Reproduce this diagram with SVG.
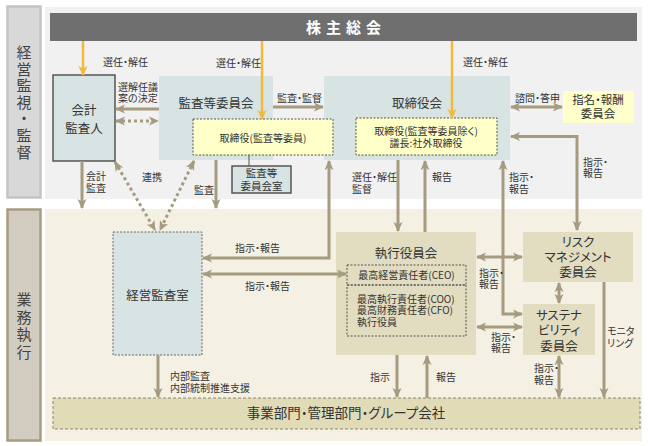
<svg xmlns="http://www.w3.org/2000/svg" width="648" height="446" viewBox="0 0 648 446">
<style>
text{font-family:"Noto Sans CJK JP","Noto Sans",sans-serif;fill:#333;font-feature-settings:"palt"}
.s{font-size:10px}
.t{font-size:12.5px;text-anchor:middle}
.m{font-size:10px;text-anchor:middle}
.side{font-size:15px;text-anchor:middle;fill:#444}
.teal{fill:#d7e4e3}
.tealb{fill:#d7e4e3;stroke:#555;stroke-width:1.5}
.yel{fill:#ffffc8;stroke:#555;stroke-width:1;stroke-dasharray:2,1.5}
.kh{fill:#e2dcc1}
.ln{fill:none;stroke:#a69b7f;stroke-width:3}
.ar{marker-end:url(#ah)}
.ar2{marker-start:url(#ah);marker-end:url(#ah)}
.dot{stroke-dasharray:3,3}
.yl{fill:none;stroke:#f2b93b;stroke-width:2.5;marker-end:url(#ay)}
</style>
<defs>
<marker id="ah" viewBox="0 0 10 10" refX="9" refY="5" markerWidth="10" markerHeight="10" markerUnits="userSpaceOnUse" orient="auto-start-reverse">
<path d="M0,0.5 L10,5 L0,9.5 L2.5,5 z" fill="#a69b7f"/>
</marker>
<marker id="ay" viewBox="0 0 10 10" refX="9" refY="5" markerWidth="10" markerHeight="10" markerUnits="userSpaceOnUse" orient="auto-start-reverse">
<path d="M0,0.5 L10,5 L0,9.5 L2.5,5 z" fill="#f2b93b"/>
</marker>
</defs>
<rect width="648" height="446" fill="#fff"/>
<g id="backgrounds">
<rect x="45" y="7" width="597" height="192" fill="#f1f1f1"/>
<rect x="45" y="209" width="597" height="232" fill="#f4f1e4"/>
</g>
<g id="label-kanshi">
<rect x="7.5" y="6.5" width="33" height="191" fill="#d8d8d8" stroke="#c4c4c4" stroke-width="2.5"/>
<text class="side"><tspan x="24" y="58">経</tspan><tspan x="24" y="74.5">営</tspan><tspan x="24" y="91">監</tspan><tspan x="24" y="107.5">視</tspan><tspan x="24" y="124">・</tspan><tspan x="24" y="141">監</tspan><tspan x="24" y="158">督</tspan></text>
</g>
<g id="label-shikko">
<rect x="7.5" y="209.5" width="33" height="231" fill="#d3cdc1" stroke="#a69c82" stroke-width="2.5"/>
<text class="side"><tspan x="24" y="305">業</tspan><tspan x="24" y="322.5">務</tspan><tspan x="24" y="340">執</tspan><tspan x="24" y="357.5">行</tspan></text>
</g>
<g id="kabunushi">
<rect x="50" y="13" width="587" height="28" fill="#6f6f6f"/>
<text x="346" y="33" style="font-size:15px;font-weight:bold;fill:#fff;text-anchor:middle;letter-spacing:5px">株主総会</text>
</g>
<g id="kaikei">
<rect class="tealb" x="53" y="75" width="62" height="86"/>
<text class="t"><tspan x="84" y="115">会計</tspan><tspan x="84" y="133">監査人</tspan></text>
</g>
<g id="kansa-iinkai">
<rect class="teal" x="159" y="76" width="114" height="84"/>
<text class="t" x="216" y="108">監査等委員会</text>
</g>
<g id="torishimariyaku-kai">
<rect class="teal" x="324" y="76" width="186" height="84"/>
<text class="t" x="417" y="108">取締役会</text>
</g>
<g id="torishimariyaku-kansa">
<rect class="yel" x="193" y="119" width="140" height="36"/>
<text class="m" x="263" y="141.5">取締役(監査等委員)</text>
</g>
<g id="torishimariyaku-other">
<rect class="yel" x="356" y="118" width="141" height="37"/>
<text class="m"><tspan x="426" y="134.5">取締役(監査等委員除く)</tspan><tspan x="426" y="147">議長:社外取締役</tspan></text>
</g>
<g id="kansa-shitsu">
<line x1="249" y1="155" x2="249" y2="166" stroke="#555" stroke-width="1"/>
<rect class="tealb" x="232" y="166" width="59" height="27"/>
<text style="font-size:10.5px;text-anchor:middle"><tspan x="261.5" y="177">監査等</tspan><tspan x="261.5" y="189.5">委員会室</tspan></text>
</g>
<g id="shimei">
<rect x="563" y="91" width="71" height="32" fill="#ffffcc"/>
<text style="font-size:11.5px;text-anchor:middle"><tspan x="598" y="104">指名・報酬</tspan><tspan x="598" y="118">委員会</tspan></text>
</g>
<g id="keiei-kansa">
<rect x="113" y="232" width="89" height="123" fill="#d7e4e3" stroke="#666" stroke-width="1" stroke-dasharray="2,1.5"/>
<text class="t" x="157.5" y="299.5">経営監査室</text>
</g>
<g id="shikko-yakuin">
<rect class="kh" x="336" y="232" width="140" height="123"/>
<text class="t" x="406" y="257.5">執行役員会</text>
<rect x="347" y="265" width="119" height="20" fill="none" stroke="#555" stroke-width="1" stroke-dasharray="2,1.5"/>
<text class="m" x="406.5" y="278.5">最高経営責任者(CEO)</text>
<rect x="347" y="285" width="119" height="51" fill="none" stroke="#555" stroke-width="1" stroke-dasharray="2,1.5"/>
<text class="s"><tspan x="357" y="302.5">最高執行責任者(COO)</tspan><tspan x="357" y="314">最高財務責任者(CFO)</tspan><tspan x="357" y="325.5">執行役員</tspan></text>
</g>
<g id="risk">
<rect class="kh" x="523" y="232" width="110" height="50"/>
<text class="t"><tspan x="578" y="247">リスク</tspan><tspan x="578" y="261.5">マネジメント</tspan><tspan x="578" y="277">委員会</tspan></text>
</g>
<g id="sustainability">
<rect class="kh" x="523" y="304" width="72" height="51"/>
<text class="t"><tspan x="559" y="319.5">サステナ</tspan><tspan x="559" y="335">ビリティ</tspan><tspan x="559" y="351">委員会</tspan></text>
</g>
<g id="jigyo">
<rect x="53" y="398" width="587" height="31" fill="#e1dbb7" stroke="#8b8670" stroke-width="1" stroke-dasharray="3,2"/>
<text x="346" y="418" style="font-size:13.5px;text-anchor:middle">事業部門・管理部門・グループ会社</text>
</g>
<g id="connectors">
<line class="yl" x1="83" y1="41" x2="83" y2="75"/>
<line class="yl" x1="262" y1="41" x2="262" y2="119"/>
<line class="yl" x1="452" y1="41" x2="452" y2="118"/>
<line class="ln ar" x1="159" y1="109" x2="116" y2="109"/>
<line class="ln ar2 dot" x1="116" y1="121" x2="158" y2="121"/>
<line class="ln ar" x1="273" y1="107" x2="323" y2="107"/>
<line class="ln ar2" x1="511" y1="107" x2="562" y2="107"/>
<path class="ln ar2" d="M577,230 L577,136.5 L511,136.5"/>
<line class="ln ar" x1="82" y1="161" x2="82" y2="208"/>
<line class="ln ar" x1="216" y1="160" x2="216" y2="208"/>
<line class="ln ar2 dot" x1="115" y1="162" x2="155" y2="230"/>
<line class="ln ar2 dot" x1="194" y1="161" x2="160" y2="230"/>
<path class="ln ar2" d="M203,258 L329,258 L329,161"/>
<line class="ln ar2" x1="203" y1="274" x2="346" y2="274"/>
<line class="ln ar" x1="398" y1="160" x2="398" y2="231"/>
<line class="ln ar" x1="425" y1="232" x2="425" y2="161"/>
<path class="ln ar2" d="M522,314 L503,314 L503,161"/>
<line class="ln ar2" x1="477" y1="257" x2="522" y2="257"/>
<line class="ln ar2" x1="477" y1="327" x2="522" y2="327"/>
<line class="ln ar2" x1="559" y1="283" x2="559" y2="303"/>
<line class="ln ar" x1="604" y1="282" x2="604" y2="397"/>
<line class="ln ar2" x1="559" y1="356" x2="559" y2="397"/>
<line class="ln ar" x1="397" y1="355" x2="397" y2="397"/>
<line class="ln ar" x1="427" y1="398" x2="427" y2="356"/>
<line class="ln ar" x1="158" y1="355" x2="158" y2="397"/>
<g id="connector-labels">
<text class="s" x="103" y="66">選任・解任</text>
<text class="s" x="216" y="67">選任・解任</text>
<text class="s" x="463" y="66">選任・解任</text>
<text class="s"><tspan x="118" y="91">選解任議</tspan><tspan x="118" y="102">案の決定</tspan></text>
<text class="s" x="277" y="101.5">監査・監督</text>
<text class="s" x="515" y="101.5">諮問・答申</text>
<text class="s"><tspan x="583" y="165.5">指示・</tspan><tspan x="583" y="177">報告</tspan></text>
<text class="s"><tspan x="86" y="180">会計</tspan><tspan x="86" y="192">監査</tspan></text>
<text class="s" x="142" y="181">連携</text>
<text class="s" x="194" y="194">監査</text>
<text class="s"><tspan x="352" y="180.5">選任・解任</tspan><tspan x="352" y="192.5">監督</tspan></text>
<text class="s" x="432" y="180.5">報告</text>
<text class="s"><tspan x="509" y="180.5">指示・</tspan><tspan x="509" y="192.5">報告</tspan></text>
<text class="s" x="235" y="251.5">指示・報告</text>
<text class="s" x="245" y="289.5">指示・報告</text>
<text class="s"><tspan x="479" y="276.5">指示・</tspan><tspan x="479" y="287.5">報告</tspan></text>
<text class="s"><tspan x="491" y="340.5">指示・</tspan><tspan x="491" y="352">報告</tspan></text>
<text class="s"><tspan x="607" y="334.5">モニタ</tspan><tspan x="607" y="346.5">リング</tspan></text>
<text class="s"><tspan x="534" y="371.5">指示・</tspan><tspan x="534" y="383.5">報告</tspan></text>
<text class="s" x="370" y="380.5">指示</text>
<text class="s" x="436" y="380.5">報告</text>
<text class="s"><tspan x="170" y="379.5">内部監査</tspan><tspan x="170" y="391.5">内部統制推進支援</tspan></text>
</g>
</g>
</svg>
